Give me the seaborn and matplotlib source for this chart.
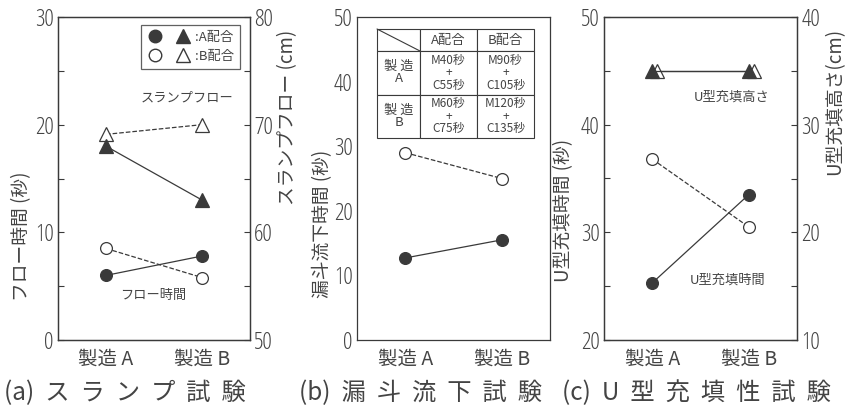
import matplotlib
matplotlib.use('Agg')
import matplotlib.pyplot as plt
import matplotlib.transforms as mtransforms
from matplotlib.font_manager import FontProperties
from matplotlib.legend_handler import HandlerTuple
from matplotlib.lines import Line2D
import seaborn as sns
import pandas as pd

sns.set_style('white')
plt.rcParams['font.family'] = ['Noto Sans CJK JP', 'DejaVu Sans']

# データ
categories = ['製造A', '製造B']

# (a) スランプ試験
flow_time_A = [6.0, 7.8]        # フロー時間 (秒)  A配合
flow_time_B = [8.5, 5.8]        # B配合
slump_flow_A = [68.0, 63.0]     # スランプフロー (cm)  A配合
slump_flow_B = [69.1, 70.0]     # B配合

# (b) 漏斗流下試験
funnel_A = [12.7, 15.5]
funnel_B = [29.0, 25.0]

# (c) U型充填性試験
u_time_A = [25.3, 33.5]
u_time_B = [36.8, 30.5]
u_height_A = [35.0, 35.0]
u_height_B = [35.0, 35.0]

table_cols = ['', 'A配合', 'B配合']
table_rows = [['製 造\nA', 'M40秒\n+\nC55秒', 'M90秒\n+\nC105秒'],
              ['製 造\nB', 'M60秒\n+\nC75秒', 'M120秒\n+\nC135秒']]

subtitles = ['(a)  ス  ラ  ン  プ  試  験', '(b)  漏  斗  流  下  試  験',
             '(c)  U  型  充  填  性  試  験']

ink = '#3a3a3a'
txt = '#444444'
num_fp = FontProperties(family='Open Sans', stretch='condensed', size=17)

fig = plt.figure(figsize=(8.48, 4.16), dpi=100)
pos_a = [58 / 848, 1 - 340 / 416, 192 / 848, 323 / 416]
pos_b = [357 / 848, 1 - 340 / 416, 193 / 848, 323 / 416]
pos_c = [604 / 848, 1 - 340 / 416, 193 / 848, 323 / 416]


def series(ax, y, filled, marker='o', dashed=False, ms=8.5, **kw):
    d = pd.DataFrame({'x': categories, 'y': y})
    sns.lineplot(data=d, x='x', y='y', ax=ax, color=ink, lw=0.9,
                 linestyle='--' if dashed else '-',
                 marker=marker, markersize=ms,
                 markerfacecolor=ink if filled else 'white',
                 markeredgecolor=ink, markeredgewidth=0.9, zorder=3, **kw)


def style(ax, ylim, step, minor):
    ax.set_xlim(-0.5, 1.5)
    ax.set_ylim(*ylim)
    ticks = list(range(ylim[0], ylim[1] + 1, step))
    ax.set_yticks(ticks)
    ax.set_yticklabels([str(t) for t in ticks], fontproperties=num_fp)
    ax.set_yticks(minor, minor=True)
    ax.tick_params(direction='in', length=4, width=0.8, colors=ink,
                   labelcolor=txt, which='both')
    ax.tick_params(axis='y', pad=3)
    ax.tick_params(axis='x', labelsize=14, pad=6)
    for s in ax.spines.values():
        s.set_color(ink)
        s.set_linewidth(0.9)
    ax.set_xlabel('')
    ax.set_ylabel('')


xt = [c[:2] + ' ' + c[2:] for c in categories]

# (a)
ax_a = fig.add_axes(pos_a)
ax_a2 = ax_a.twinx()
series(ax_a, flow_time_B, False, dashed=True)
series(ax_a, flow_time_A, True)
series(ax_a2, slump_flow_B, False, marker='^', dashed=True, ms=10)
series(ax_a2, slump_flow_A, True, marker='^', ms=10)
style(ax_a, (0, 30), 10, [5, 15, 25])
style(ax_a2, (50, 80), 10, [55, 65, 75])
ax_a.set_xticks([0, 1])
ax_a.set_xticklabels(xt)
ax_a.set_ylabel('フロー時間 (秒)', fontsize=13.5, color=txt)
ax_a.yaxis.set_label_coords(-0.135, 0.32)
ax_a2.set_ylabel('スランプフロー (cm)', fontsize=13.5, color=txt)
ax_a2.yaxis.set_label_coords(1.14, 0.69)
ax_a2.set_zorder(ax_a.get_zorder() + 1)
ax_a.text(0.67, 0.75, 'スランプフロー', transform=ax_a.transAxes,
          fontsize=9.5, color=txt, ha='center', va='center')
ax_a.text(0.495, 0.139, 'フロー時間', transform=ax_a.transAxes,
          fontsize=9.5, color=txt, ha='center', va='center')

hA = (Line2D([], [], marker='o', ls='', color=ink, ms=9),
      Line2D([], [], marker='^', ls='', color=ink, ms=10))
hB = (Line2D([], [], marker='o', ls='', mfc='white', mec=ink, ms=9),
      Line2D([], [], marker='^', ls='', mfc='white', mec=ink, ms=10))
leg = ax_a2.legend([hA, hB], [':A配合', ':B配合'],
                   handler_map={tuple: HandlerTuple(ndivide=None, pad=0.8)},
                   loc='upper right', bbox_to_anchor=(0.95, 0.975),
                   fontsize=9.5, frameon=True, fancybox=False,
                   handlelength=3.4, handletextpad=0.3, borderpad=0.45,
                   labelspacing=0.45, borderaxespad=0)
leg.get_frame().set_edgecolor(ink)
leg.get_frame().set_linewidth(0.9)
for t in leg.get_texts():
    t.set_color(txt)

# (b)
ax_b = fig.add_axes(pos_b)
series(ax_b, funnel_B, False, dashed=True)
series(ax_b, funnel_A, True)
style(ax_b, (0, 50), 10, [5, 15, 25, 35, 45])
ax_b.set_xticks([0, 1])
ax_b.set_xticklabels(xt)
ax_b.set_ylabel('漏斗流下時間 (秒)', fontsize=13.5, color=txt)
ax_b.yaxis.set_label_coords(-0.125, 0.36)

col_w = [43 / 193, 57 / 193, 57 / 193]
tab = ax_b.table(cellText=table_rows, colLabels=table_cols, colWidths=col_w,
                 cellLoc='center', bbox=[20 / 193, 202 / 323, 157 / 193, 109 / 323])
tab.auto_set_font_size(False)
for (r, c), cell in tab.get_celld().items():
    cell.set_edgecolor(ink)
    cell.set_linewidth(0.8)
    cell.PAD = 0.02
    cell.get_text().set_color(txt)
    if r == 0:
        cell.get_text().set_fontsize(9.5)
    elif c == 0:
        cell.get_text().set_fontsize(9.5)
    else:
        cell.get_text().set_fontsize(8.5)
    cell.get_text().set_linespacing(0.95)
    if r == 0:
        cell.set_height(22 / 323)
    else:
        cell.set_height(43.5 / 323)
# 見出しセルの斜線
ax_b.plot([20 / 193, 63 / 193], [311 / 323, 289 / 323], transform=ax_b.transAxes,
          color=ink, lw=0.8, zorder=5)

# (c)
ax_c = fig.add_axes(pos_c)
ax_c2 = ax_c.twinx()
series(ax_c, u_time_B, False, dashed=True)
series(ax_c, u_time_A, True)
shift = mtransforms.offset_copy(ax_c2.transData, fig=fig, x=5, y=0, units='dots')
series(ax_c2, u_height_B, False, marker='^', ms=10, transform=shift)
series(ax_c2, u_height_A, True, marker='^', ms=10)
style(ax_c, (20, 50), 10, [25, 35, 45])
style(ax_c2, (10, 40), 10, [15, 25, 35])
ax_c.set_xticks([0, 1])
ax_c.set_xticklabels(xt)
ax_c.set_ylabel('U型充填時間 (秒)', fontsize=13.5, color=txt)
ax_c.yaxis.set_label_coords(-0.155, 0.40)
ax_c2.set_ylabel('U型充填高さ(cm)', fontsize=13.5, color=txt)
ax_c2.yaxis.set_label_coords(1.14, 0.74)
ax_c2.set_zorder(ax_c.get_zorder() + 1)
ax_c.text(0.66, 0.752, 'U型充填高さ', transform=ax_c.transAxes,
          fontsize=9.5, color=txt, ha='center', va='center')
ax_c.text(0.64, 0.186, 'U型充填時間', transform=ax_c.transAxes,
          fontsize=9.5, color=txt, ha='center', va='center')

# 下のタイトル
for ax, s, xc in zip([ax_a, ax_b, ax_c], subtitles, [0.35, 0.33, 0.48]):
    ax.text(xc, -0.165, s, transform=ax.transAxes, fontsize=17.5, color=txt,
            ha='center', va='center')

fig.savefig('out.png', dpi=100)
